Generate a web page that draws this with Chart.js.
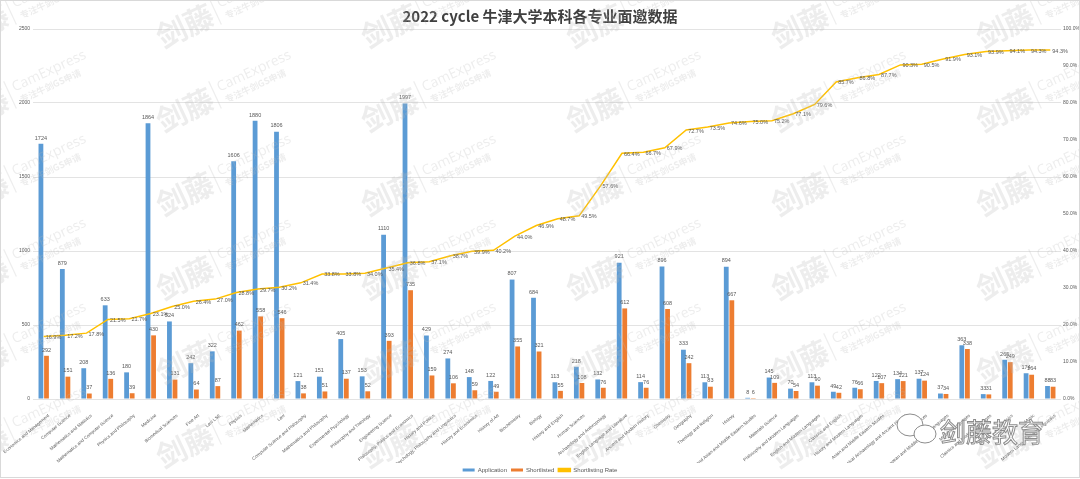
<!DOCTYPE html>
<html>
<head>
<meta charset="utf-8">
<script src="https://cdn.jsdelivr.net/npm/chart.js@4.4.0/dist/chart.umd.min.js"></script>
<style>
  html, body { margin: 0; padding: 0; background: #fff; }
  #wrap { width: 1080px; height: 479px; }
</style>
</head>
<body>
<div id="wrap"><canvas id="rateChart" width="1080" height="479"></canvas></div>
<script>
  // 2022 cycle, Oxford undergraduate applications vs shortlisted
  var subjects = [
    'Economics and Management', 'Computer Science', 'Mathematics and Statistics',
    'Mathematics and Computer Science', 'Physics and Philosophy', 'Medicine',
    'Biomedical Sciences', 'Fine Art', 'Law LSE', 'Physics', 'Mathematics', 'Law',
    'Computer Science and Philosophy', 'Mathematics and Philosophy', 'Experimental Psychology',
    'Philosophy and Theology', 'Engineering Science', 'Philosophy, Politics and Economics',
    'History and Politics', 'Psychology, Philosophy and Linguistics', 'History and Economics',
    'History of Art', 'Biochemistry', 'Biology', 'History and English', 'Human Sciences',
    'Archaeology and Anthropology', 'English Language and Literature', 'Ancient and Modern History',
    'Chemistry', 'Geography', 'Theology and Religion', 'History',
    'Religion and Asian and Middle Eastern Studies', 'Materials Science',
    'Philosophy and Modern Languages', 'English and Modern Languages', 'Classics and English',
    'History and Modern Languages', 'Asian and Middle Eastern Studies',
    'Classical Archaeology and Ancient History', 'Earth Sciences',
    'European and Middle Eastern Languages', 'Modern Languages', 'Classics and Modern Languages',
    'Classics', 'Music', 'Modern Languages and Linguistics'
  ];
  var applications = [1724, 879, 208, 633, 180, 1864, 524, 242, 322, 1606, 1880, 1806,
    121, 151, 405, 153, 1110, 1997, 429, 274, 148, 122, 807, 684, 113, 218,
    132, 921, 114, 896, 333, 113, 894, 8, 145, 70, 113, 49, 76, 122,
    134, 137, 37, 363, 33, 265, 174, 88];
  var shortlisted = [292, 151, 37, 136, 39, 430, 131, 64, 87, 462, 558, 546,
    38, 51, 137, 52, 393, 735, 159, 106, 59, 49, 355, 321, 55, 108,
    76, 612, 76, 608, 242, 83, 667, 6, 109, 54, 90, 42, 66, 107,
    121, 124, 34, 338, 31, 249, 164, 83];
  var rates = [16.9, 17.2, 17.8, 21.5, 21.7, 23.1, 25.0, 26.4, 27.0, 28.8, 29.7, 30.2,
    31.4, 33.8, 33.8, 34.0, 35.4, 36.8, 37.1, 38.7, 39.9, 40.2, 44.0, 46.9, 48.7, 49.5,
    57.6, 66.4, 66.7, 67.9, 72.7, 73.5, 74.6, 75.0, 75.2, 77.1, 79.6, 85.7, 86.8, 87.7,
    90.3, 90.5, 91.9, 93.1, 93.9, 94.1, 94.3, 94.3];

  var grey = '#595959';
  var smallFont = { family: '"Liberation Sans", Arial, sans-serif', size: 5 };

  // numbers above bars, percentages beside the line
  var valueLabels = {
    id: 'valueLabels',
    afterDatasetsDraw: function (chart) {
      var ctx = chart.ctx;
      ctx.save();
      ctx.font = '5.5px "Liberation Sans", Arial, sans-serif';
      ctx.fillStyle = grey;
      ctx.textAlign = 'center';
      ctx.textBaseline = 'bottom';
      [0, 1].forEach(function (d) {
        var vals = chart.data.datasets[d].data;
        chart.getDatasetMeta(d).data.forEach(function (bar, i) {
          ctx.fillText(vals[i], bar.x, bar.y - 3);
        });
      });
      ctx.textAlign = 'left';
      ctx.textBaseline = 'middle';
      chart.getDatasetMeta(2).data.forEach(function (pt, i) {
        ctx.fillText(rates[i].toFixed(1) + '%', pt.x + 2, pt.y + 1);
      });
      ctx.restore();
    }
  };

  // watermark + frame + logo
  var decor = {
    id: 'decor',
    afterDraw: function (chart) {
      var ctx = chart.ctx;
      ctx.save();
      ctx.fillStyle = 'rgba(185,185,185,0.26)';
      for (var gx = -20; gx < 1150; gx += 205) {
        for (var gy = 26; gy < 530; gy += 84) {
          ctx.save();
          ctx.translate(gx, gy);
          ctx.rotate(-25 * Math.PI / 180);
          ctx.textBaseline = 'middle';
          ctx.textAlign = 'center';
          ctx.font = 'bold 30px "Noto Sans CJK SC"';
          ctx.fillText('剑藤', 0, 0);
          ctx.fillRect(33, -16, 1.2, 30);
          ctx.textAlign = 'left';
          ctx.font = '14px "Open Sans"';
          ctx.fillText('CamExpress', 39, -6);
          ctx.font = 'bold 9px "Noto Sans CJK SC"';
          ctx.fillText('专注牛剑GS申请', 41, 8);
          ctx.restore();
        }
      }
      ctx.restore();

      // logo bottom right
      ctx.save();
      ctx.strokeStyle = '#8c8c8c';
      ctx.fillStyle = '#ffffff';
      ctx.lineWidth = 1;
      ctx.beginPath();
      ctx.ellipse(910, 425, 13, 11, 0, 0, Math.PI * 2);
      ctx.fill(); ctx.stroke();
      ctx.beginPath();
      ctx.ellipse(925, 434, 11, 9, 0, 0, Math.PI * 2);
      ctx.fill(); ctx.stroke();
      ctx.font = '26px "Noto Sans CJK SC"';
      ctx.textBaseline = 'middle';
      ctx.textAlign = 'left';
      ctx.fillText('剑藤教育', 940, 432);
      ctx.strokeText('剑藤教育', 940, 432);
      ctx.restore();

      ctx.save();
      ctx.strokeStyle = '#d9d9d9';
      ctx.lineWidth = 1;
      ctx.strokeRect(0.5, 0.5, 1079, 477);
      ctx.restore();
    }
  };

  var ctx = document.getElementById('rateChart').getContext('2d');
  var chart = new Chart(ctx, {
    data: {
      labels: subjects,
      datasets: [
        {
          type: 'bar', label: 'Application', data: applications,
          backgroundColor: '#5B9BD5', yAxisID: 'y', order: 1,
          categoryPercentage: 0.52, barPercentage: 0.86
        },
        {
          type: 'bar', label: 'Shortlisted', data: shortlisted,
          backgroundColor: '#ED7D31', yAxisID: 'y', order: 1,
          categoryPercentage: 0.52, barPercentage: 0.86
        },
        {
          type: 'line', label: 'Shortlisting Rate', data: rates,
          borderColor: '#FFC000', backgroundColor: '#FFC000', borderWidth: 1.5,
          pointRadius: 0, tension: 0, yAxisID: 'y1', order: 0
        }
      ]
    },
    options: {
      responsive: false,
      animation: false,
      layout: { padding: { top: 0, left: 0, right: 0, bottom: -4 } },
      plugins: {
        title: {
          display: true,
          text: '2022 cycle 牛津大学本科各专业面邀数据',
          color: '#404040',
          font: { family: '"Noto Sans CJK SC", sans-serif', size: 15, weight: 'bold' },
          padding: { top: 7, bottom: 4 }
        },
        legend: {
          position: 'bottom',
          labels: {
            color: grey,
            font: { family: '"Liberation Sans", Arial, sans-serif', size: 6 },
            boxWidth: 12, boxHeight: 3, padding: 4,
            sort: function (a, b) { return a.datasetIndex - b.datasetIndex; }
          }
        },
        tooltip: { enabled: false }
      },
      scales: {
        x: {
          grid: { display: false },
          border: { display: false },
          ticks: {
            autoSkip: false, minRotation: 40, maxRotation: 40,
            color: grey, font: { family: '"Liberation Sans", Arial, sans-serif', size: 4.5 },
            padding: 6, labelOffset: 5
          },
          afterFit: function (s) {
            s.height = 64;
            s.paddingLeft = 0;
            s.paddingRight = 0;
          }
        },
        y: {
          position: 'left', min: 0, max: 2500,
          ticks: {
            stepSize: 500, color: grey, font: smallFont, padding: 3,
            callback: function (v) { return String(v); }
          },
          grid: { color: '#e3e3e3', drawTicks: false },
          border: { display: false },
          afterFit: function (s) { s.width = 33; }
        },
        y1: {
          position: 'right', min: 0, max: 100,
          ticks: {
            stepSize: 10, color: grey, font: smallFont, padding: 2,
            callback: function (v) { return v.toFixed(1) + '%'; }
          },
          grid: { display: false, drawTicks: false },
          border: { display: false },
          afterFit: function (s) { s.width = 19; }
        }
      }
    },
    plugins: [valueLabels, decor]
  });
</script>
</body>
</html>
